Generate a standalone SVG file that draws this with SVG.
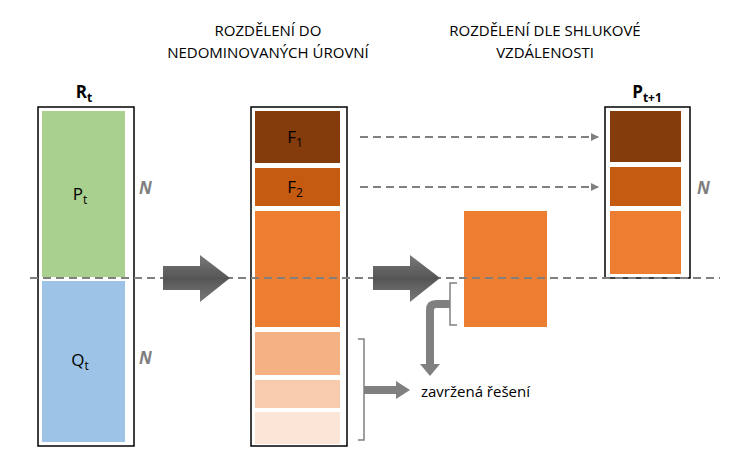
<svg xmlns="http://www.w3.org/2000/svg" width="744" height="461" viewBox="0 0 744 461">
<style>
text{font-family:"Open Sans","Liberation Sans",sans-serif;fill:#000}
.t{font-size:15px;text-anchor:middle}
.n{font-size:17px;font-weight:bold;font-style:italic;fill:#7f7f7f}
.h{font-size:17px;font-weight:bold;text-anchor:middle}
.l{font-size:17px;text-anchor:middle}
.frame{fill:#fff;stroke:#000;stroke-width:1.5}
.dash{stroke:#808080;stroke-width:2;stroke-dasharray:8,5;fill:none}
.br{fill:none;stroke:#808080;stroke-width:1.5}
.big{fill:#606060}
</style>
<defs>
<marker id="ah" markerWidth="8" markerHeight="8" refX="7" refY="4" orient="auto" markerUnits="userSpaceOnUse"><path d="M0,0L8,4L0,8z" fill="#808080"/></marker>
<linearGradient id="g" x1="0" y1="0" x2="0" y2="1"><stop offset="0" stop-color="#7a7a7a"/><stop offset="0.5" stop-color="#555"/><stop offset="1" stop-color="#7a7a7a"/></linearGradient>
</defs>
<text class="t" x="268" y="36">ROZDĚLENÍ DO</text>
<text class="t" x="268" y="58">NEDOMINOVANÝCH ÚROVNÍ</text>
<text class="t" x="545" y="36">ROZDĚLENÍ DLE SHLUKOVÉ</text>
<text class="t" x="545" y="58">VZDÁLENOSTI</text>
<g id="Rt">
<text class="h" x="84" y="98">R<tspan font-size="12" dy="4">t</tspan></text>
<rect class="frame" x="38" y="107" width="96" height="339"/>
<rect x="42" y="111" width="83" height="166" fill="#a9d08e"/>
<rect x="42" y="281" width="83" height="161" fill="#9dc3e6"/>
<text class="l" x="80" y="200">P<tspan font-size="12" dy="4">t</tspan></text>
<text class="l" x="80" y="366">Q<tspan font-size="12" dy="4">t</tspan></text>
<text class="n" x="139" y="194">N</text>
<text class="n" x="139" y="364">N</text>
</g>
<g id="fronts">
<rect class="frame" x="251" y="107" width="96" height="339"/>
<rect x="255" y="111" width="85" height="52" fill="#843c0c"/>
<rect x="255" y="168" width="85" height="38" fill="#c55a11"/>
<rect x="255" y="211" width="85" height="116" fill="#ed7d31"/>
<rect x="255" y="332" width="85" height="43" fill="#f4b183"/>
<rect x="255" y="380" width="85" height="28" fill="#f8cbad"/>
<rect x="255" y="412" width="85" height="32" fill="#fbe5d6"/>
<text class="l" x="295" y="143">F<tspan font-size="12" dy="4">1</tspan></text>
<text class="l" x="295" y="193">F<tspan font-size="12" dy="4">2</tspan></text>
</g>
<g id="crowd">
<rect x="464" y="211" width="83" height="116" fill="#ed7d31"/>
</g>
<g id="Pt1">
<text class="h" x="647" y="98">P<tspan font-size="12" dy="4">t+1</tspan></text>
<rect class="frame" x="605" y="107" width="85" height="171"/>
<rect x="610" y="111" width="71" height="51" fill="#843c0c"/>
<rect x="610" y="167" width="71" height="39" fill="#c55a11"/>
<rect x="610" y="211" width="71" height="63" fill="#ed7d31"/>
<text class="n" x="697" y="194">N</text>
</g>
<g id="rejected">
<text x="421" y="397" style="font-size:15px">zavržená řešení</text>
</g>
<g id="connectors">
<line class="dash" x1="30" y1="278" x2="720" y2="278"/>
<line class="dash" x1="360" y1="137" x2="598" y2="137" marker-end="url(#ah)"/>
<line class="dash" x1="360" y1="187" x2="598" y2="187" marker-end="url(#ah)"/>
<path d="M163,266H200V255L230,278L200,302V290H163z" fill="url(#g)"/>
<path d="M373,266H410V255L440,278L410,302V290H373z" fill="url(#g)"/>
<path class="br" d="M457,283H450V325H457"/>
<path class="br" d="M358,339H364V440H358"/>
<path d="M450,300H436Q426,300 426,310V364H420L430,376L440,364H434V310Q434,308 436,308H450z" fill="#808080"/>
<path d="M364,386H396V381L410,390L396,399V394H364z" fill="#808080"/>
</g>
</svg>
